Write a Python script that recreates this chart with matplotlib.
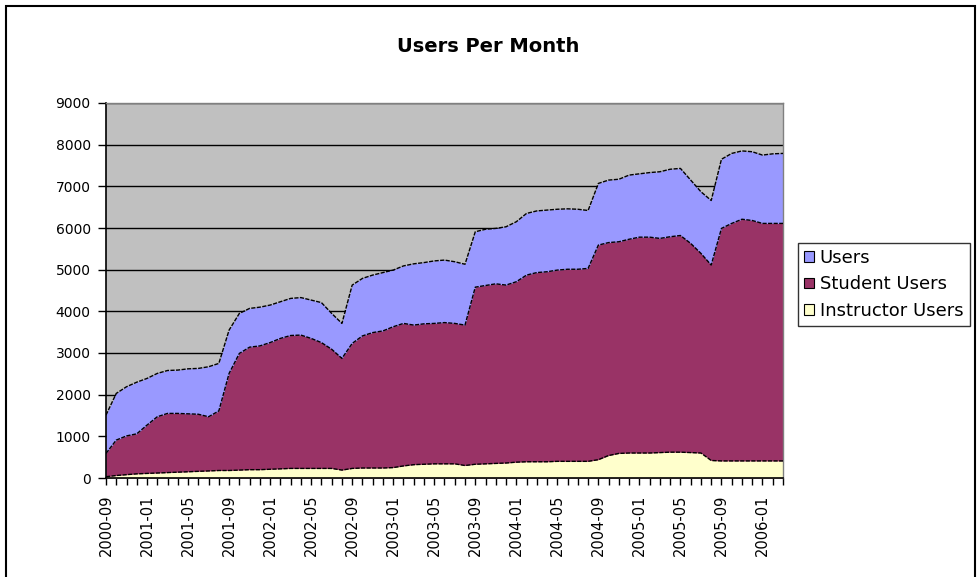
import numpy as np
import pandas as pd
import matplotlib
matplotlib.use("Agg")
import matplotlib.pyplot as plt
from matplotlib.patches import Patch, Rectangle

# Monthly categories 2000-09 .. 2006-03
months = [p.strftime("%Y-%m") for p in pd.period_range("2000-09", "2006-03", freq="M")]

# Values (totals per series)
users = [1510, 2030, 2190, 2300, 2390, 2510, 2580, 2590, 2620, 2630, 2670, 2750, 3550, 3950, 4070, 4100, 4150,
         4230, 4310, 4330, 4270, 4210, 3950, 3710, 4630, 4790, 4870, 4930, 4990, 5090, 5140, 5170, 5210, 5230,
         5190, 5130, 5910, 5970, 5990, 6030, 6150, 6350, 6410, 6430, 6450, 6460, 6450, 6420, 7070, 7150,
         7170, 7270, 7300, 7330, 7350, 7410, 7430, 7150, 6870, 6660, 7650, 7790, 7850, 7830, 7750, 7780, 7790]
student_users = [590, 910, 1010, 1060, 1270, 1470, 1550, 1550, 1540, 1530, 1470, 1610, 2510, 2990, 3140, 3170, 3250,
                 3350, 3420, 3430, 3350, 3250, 3090, 2870, 3230, 3410, 3490, 3530, 3630, 3710, 3670, 3700, 3710, 3730,
                 3710, 3670, 4580, 4620, 4660, 4630, 4710, 4870, 4930, 4950, 4990, 5010, 5010, 5030, 5590, 5650,
                 5670, 5730, 5780, 5780, 5750, 5790, 5820, 5630, 5390, 5110, 5990, 6110, 6210, 6180, 6110, 6110, 6110]
instructor_users = [30, 60, 80, 100, 110, 120, 130, 140, 150, 160, 170, 180, 180, 190, 200, 200, 210,
                    220, 230, 230, 230, 230, 230, 190, 230, 240, 240, 240, 250, 290, 320, 330, 340, 340,
                    340, 300, 330, 340, 350, 360, 380, 390, 390, 390, 400, 400, 400, 400, 440, 540,
                    590, 600, 600, 600, 610, 620, 620, 610, 600, 420, 410, 410, 410, 410, 410, 410, 410]

series_names = ["Users", "Student Users", "Instructor Users"]
colors = ["#9999FF", "#993366", "#FFFFCC"]

plt.rcParams['font.family'] = ['DejaVu Sans']

W, H = 978, 577
fig = plt.figure(figsize=(W / 100, H / 100), dpi=100)
ax = fig.add_axes([106 / W, 1 - 478 / H, (783 - 106) / W, (478 - 103) / H])

x = np.arange(len(months))
ax.set_facecolor("#C0C0C0")

# overlapping area series, biggest at the back
for vals, c in zip([users, student_users, instructor_users], colors):
    ax.fill_between(x, 0, vals, color=c, zorder=2, lw=0)
    ax.plot(x, vals, color="black", lw=1, ls=(0, (3, 1)), zorder=3)

ax.set_xlim(0, len(months) - 1)
ax.set_ylim(0, 9000)
ax.set_yticks(range(0, 9001, 1000))
ax.yaxis.grid(True, color="black", lw=1)
ax.set_axisbelow(True)

ax.set_xticks(x)
ax.set_xticklabels([m if i % 4 == 0 else "" for i, m in enumerate(months)], rotation=90)
ax.tick_params(axis="x", length=5, width=1, pad=7, labelsize=10.5)
ax.tick_params(axis="y", length=6, width=1, pad=5, labelsize=10)

ax.spines["left"].set_color("black")
ax.spines["bottom"].set_color("black")
ax.spines["left"].set_linewidth(1.2)
ax.spines["bottom"].set_linewidth(1.2)
for s in ["top", "right"]:
    ax.spines[s].set_color("#808080")
    ax.spines[s].set_linewidth(1)

fig.text(488 / W, 1 - 47 / H, "Users Per Month", ha="center", va="center",
         fontsize=14, fontweight="bold")

handles = [Patch(facecolor=c, edgecolor="black", lw=0.8) for c in colors]
leg = fig.legend(handles, series_names, loc="upper left",
                 bbox_to_anchor=(798 / W, 1 - 243 / H), bbox_transform=fig.transFigure,
                 fontsize=13, frameon=True, fancybox=False, edgecolor="black",
                 handlelength=0.55, handleheight=0.55, handletextpad=0.3,
                 borderpad=0.35, labelspacing=0.45, borderaxespad=0)
leg.get_frame().set_linewidth(1)

# outer chart border
fig.add_artist(Rectangle((6 / W, -0.05), (975 - 6) / W, 1 - 6 / H + 0.05, fill=False,
                         ec="black", lw=1.5, transform=fig.transFigure))

fig.savefig("out.png", dpi=100)
